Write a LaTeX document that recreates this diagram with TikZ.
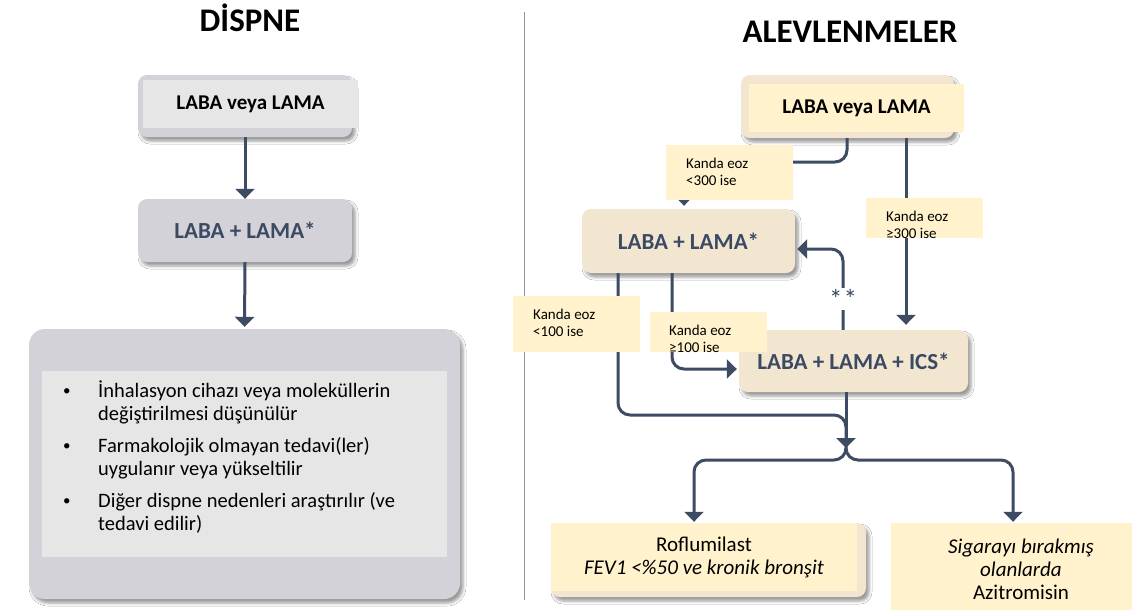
\documentclass[tikz,border=0pt]{standalone}
\usepackage{fontspec}
\setmainfont{Carlito}
\usetikzlibrary{arrows.meta,shadows,shadows.blur}

\definecolor{linec}{HTML}{3D4B63}
\definecolor{grayfill}{HTML}{D4D2D9}
\definecolor{grayin}{HTML}{E6E6E6}
\definecolor{beige}{HTML}{F3E6D1}
\definecolor{cream}{HTML}{FFF2CC}
\definecolor{slate}{HTML}{3B4A62}
\definecolor{sepc}{HTML}{8E97A6}

\newcommand\myfs[2]{\fontsize{#1}{#2}\selectfont}

\begin{document}
\begin{tikzpicture}[x=1pt,y=-1pt,
  softshadow/.style={blur shadow={shadow xshift=3pt,shadow yshift=-4pt,shadow blur radius=3pt,shadow opacity=40}},
  graybox/.style={fill=grayfill,rounded corners=9pt,softshadow,inner sep=0},
  beigebox/.style={fill=beige,rounded corners=9pt,softshadow,inner sep=0},
  graypanel/.style={fill=grayin,inner sep=0},
  creampanel/.style={fill=cream,inner sep=0},
  titlefont/.style={font=\myfs{33}{38}\bfseries},
  smallbold/.style={font=\myfs{21}{24}\bfseries},
  bigbold/.style={font=\myfs{23}{27}\bfseries,text=slate},
  labeltext/.style={font=\myfs{15}{17},align=left,anchor=west,inner sep=0},
  bullettext/.style={font=\myfs{20.5}{23},anchor=base west,inner sep=0},
  bulletdot/.style={font=\myfs{15}{17},anchor=base west,inner sep=0},
  line/.style={draw=linec,line width=3pt,rounded corners=12pt},
  conn/.style={line,-{Triangle[width=19pt,length=10pt]}},
]
\fill[white] (0,0) rectangle (1132,613);
\useasboundingbox (0,0) rectangle (1132,613);

% headings and the dividing rule
\node[titlefont,anchor=base] (t1) at (250,31) {DİSPNE};
\node[titlefont,anchor=base] (t2) at (850,42) {ALEVLENMELER};
\draw[sepc,line width=1pt] (524,12) -- (524,600);

% ---------- dyspnoea pathway ----------
\node[graybox,minimum width=214pt,minimum height=62pt] (d1) at (245,106) {};
\node[graypanel,smallbold,minimum width=215pt,minimum height=48pt] (d1t) at (250.5,104) {LABA veya LAMA};
\node[graybox,bigbold,minimum width=214pt,minimum height=63pt] (d2) at (245,230.5) {LABA + LAMA*};
\node[graybox,rounded corners=16pt,minimum width=431pt,minimum height=270pt] (d3) at (244.5,464) {};
\node[graypanel,minimum width=405pt,minimum height=186pt] (d3t) at (244.5,464) {};

\node[bulletdot] (b1) at (63,395) {•};
\node[bullettext] (b1a) at (98,397) {İnhalasyon cihazı veya moleküllerin};
\node[bullettext] (b1b) at (98,420) {değiştirilmesi düşünülür};
\node[bulletdot] (b2) at (63,450) {•};
\node[bullettext] (b2a) at (98,452) {Farmakolojik olmayan tedavi(ler)};
\node[bullettext] (b2b) at (98,475) {uygulanır veya yükseltilir};
\node[bulletdot] (b3) at (63,505) {•};
\node[bullettext] (b3a) at (98,507) {Diğer dispne nedenleri araştırılır (ve};
\node[bullettext] (b3b) at (98,530) {tedavi edilir)};

\draw[conn] (d1.south) -- (d2.north);
\draw[conn] (d2.south) -- ([yshift=2pt]d3.north);

% ---------- exacerbation pathway ----------
\node[beigebox,minimum width=213pt,minimum height=63pt] (a) at (847.5,106.5) {};
\node[creampanel,smallbold,minimum width=215pt,minimum height=48pt] (at) at (856.5,108) {LABA veya LAMA};
\node[beigebox,bigbold,minimum width=213pt,minimum height=64pt] (b) at (688.5,241) {LABA + LAMA*};
\node[beigebox,bigbold,minimum width=229pt,minimum height=62pt] (c) at (853.5,361) {LABA + LAMA + ICS*};

\node[beigebox,minimum width=315pt,minimum height=74pt] (d) at (708.5,560) {};
\node[creampanel,minimum width=306pt,minimum height=68pt,font=\myfs{21}{23},align=center] (dt) at (704,557)
  {Roflumilast\\\textit{FEV1 <\%50 ve kronik bronşit}};
\node[creampanel,minimum width=241pt,minimum height=87pt,font=\myfs{21}{23},align=center] (e) at (1011.5,566.5) {};
\node[font=\myfs{21}{23},align=center,inner sep=0] (et) at (1021,569)
  {\textit{Sigarayı bırakmış}\\\textit{olanlarda}\\Azitromisin};

% routing points
\coordinate (k1) at (684,162);
\coordinate (xr) at (906,0);
\coordinate (bk) at (843,249);
\coordinate (m1) at (618,415);
\coordinate (m2) at (672,369);
\coordinate (jn) at (846,448);
\coordinate (sl) at (694,460);
\coordinate (sr) at (1013,460);

\draw[conn] (a.south -| 847,0) |- (k1) -- ([yshift=3pt]k1 |- b.north);
\draw[conn] (a.south -| xr) -- ([yshift=5pt]c.north -| xr);
\draw[conn] (c.north -| bk) |- ([xshift=2pt]b.east |- bk);
\draw[line] (b.south -| m1) -- (m1) -- (m1 -| jn) -- (jn);
\draw[conn] (b.south -| m2) |- ([xshift=-2pt]c.west |- m2);
\draw[conn] (c.south -| jn) -- (jn);
\draw[conn] (jn) -- (jn |- sl) -- (sl) -- ([yshift=1pt]sl |- d.north);
\draw[conn] (jn) -- (jn |- sr) -- (sr) -- ([yshift=1pt]sr |- e.north);

\node[fill=white,inner sep=1pt,font=\myfs{27}{28},text=slate] (ss) at (843,299) {*\kern1pt*};

% threshold labels
\node[creampanel,minimum width=127pt,minimum height=55pt] (l1) at (729.5,172.5) {};
\node[labeltext] (l1t) at (686,171.5) {Kanda eoz\\<300 ise};
\node[creampanel,minimum width=117pt,minimum height=40pt] (l2) at (924.5,218) {};
\node[labeltext] (l2t) at (886,225) {Kanda eoz\\≥300 ise};
\node[creampanel,minimum width=127pt,minimum height=56pt] (l3) at (576.5,324) {};
\node[labeltext] (l3t) at (533,322.5) {Kanda eoz\\<100 ise};
\node[creampanel,minimum width=117pt,minimum height=40pt] (l4) at (708.5,332) {};
\node[labeltext] (l4t) at (669,338.5) {Kanda eoz\\≥100 ise};
\end{tikzpicture}
\end{document}
